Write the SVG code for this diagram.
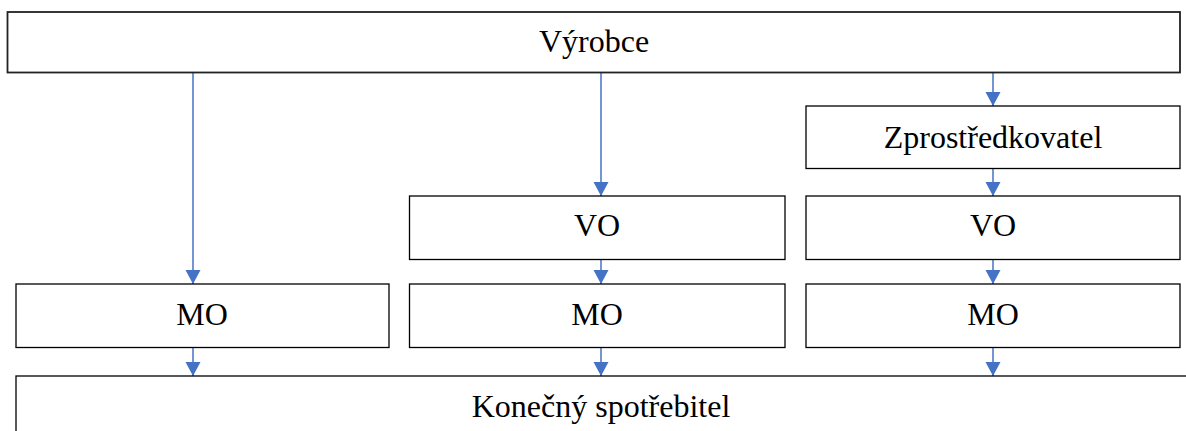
<svg xmlns="http://www.w3.org/2000/svg" width="1186" height="431" viewBox="0 0 1186 431">
  <style>
    .box { fill: #ffffff; stroke: #000000; stroke-width: 1.3; }
    .box.main { stroke: #222222; stroke-width: 1.8; }
    .lbl { font-family: "Liberation Serif", "Times New Roman", serif; font-size: 32px; fill: #000000; text-anchor: middle; }
    .edge { fill: none; stroke: #4472C4; stroke-width: 1.5; marker-end: url(#arrow); }
  </style>
  <defs>
    <marker id="arrow" markerUnits="userSpaceOnUse" markerWidth="16" markerHeight="16" viewBox="0 0 16 16" refX="14" refY="7.5" orient="auto">
      <path d="M0,0 L14,7.5 L0,15 Z" fill="#4472C4"/>
    </marker>
  </defs>

  <rect width="1186" height="431" fill="#ffffff"/>

  <!-- connectors -->
  <g id="connectors">
    <line class="edge" x1="193" y1="73" x2="193" y2="284"/>
    <line class="edge" x1="601" y1="73" x2="601" y2="196"/>
    <line class="edge" x1="993" y1="73" x2="993" y2="106"/>
    <line class="edge" x1="993" y1="169" x2="993" y2="196"/>
    <line class="edge" x1="993" y1="260" x2="993" y2="284"/>
    <line class="edge" x1="601" y1="260" x2="601" y2="284"/>
    <line class="edge" x1="193" y1="348" x2="193" y2="376"/>
    <line class="edge" x1="601" y1="348" x2="601" y2="376"/>
    <line class="edge" x1="993" y1="348" x2="993" y2="376"/>
  </g>

  <!-- nodes -->
  <g id="vyrobce">
    <rect class="box main" x="7.5" y="12" width="1172.5" height="60.5"/>
    <text class="lbl" x="594" y="52">Výrobce</text>
  </g>
  <g id="zprostredkovatel">
    <rect class="box" x="806" y="106" width="374" height="62.5"/>
    <text class="lbl" x="993" y="147.5">Zprostředkovatel</text>
  </g>
  <g id="vo-stred">
    <rect class="box" x="409.5" y="196" width="375.5" height="63.5"/>
    <text class="lbl" x="597" y="236">VO</text>
  </g>
  <g id="vo-vpravo">
    <rect class="box" x="806" y="196" width="374" height="63.5"/>
    <text class="lbl" x="993" y="236">VO</text>
  </g>
  <g id="mo-vlevo">
    <rect class="box" x="16" y="284" width="373" height="63.5"/>
    <text class="lbl" x="202" y="325">MO</text>
  </g>
  <g id="mo-stred">
    <rect class="box" x="409.5" y="284" width="375.5" height="63.5"/>
    <text class="lbl" x="597" y="325">MO</text>
  </g>
  <g id="mo-vpravo">
    <rect class="box" x="806" y="284" width="374" height="63.5"/>
    <text class="lbl" x="993" y="325">MO</text>
  </g>
  <g id="konecny-spotrebitel">
    <rect class="box" x="16" y="376" width="1172" height="64"/>
    <text class="lbl" x="601" y="417">Konečný spotřebitel</text>
  </g>
</svg>
